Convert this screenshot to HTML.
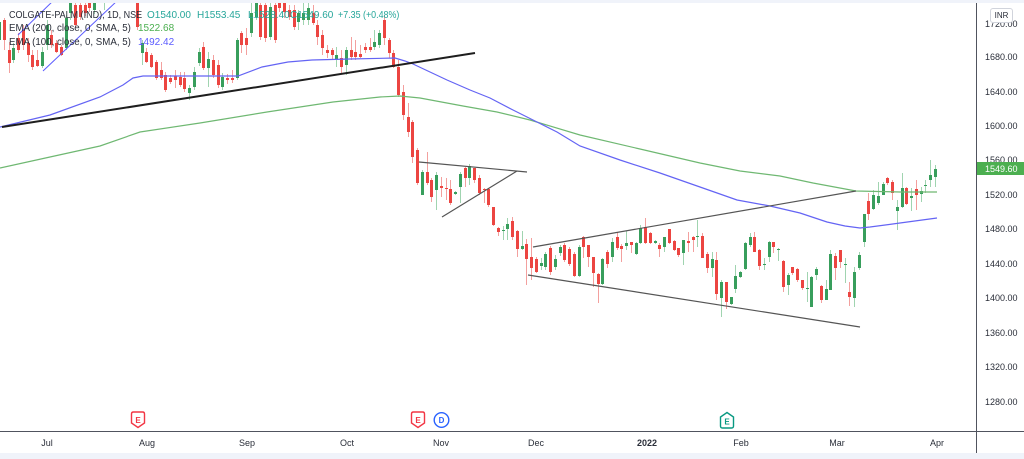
<!DOCTYPE html>
<html><head><meta charset="utf-8">
<style>
html,body{margin:0;padding:0}
body{width:1024px;height:459px;background:#f0f3fa;position:relative;overflow:hidden;font-family:"Liberation Sans",Arial,sans-serif}
#panel{position:absolute;left:0;top:3px;width:1024px;height:450px;background:#fff}
#cw{position:absolute;left:0;top:3px;width:976px;height:428px;overflow:hidden}
#cs{position:absolute;left:-7.58px;top:-3px;display:flex;height:431px}
#cs i{position:relative;flex:0 0 4.759px;width:4.759px;height:431px;display:block}
#cs i::before{content:"";position:absolute;left:calc(50% - 0.5px);width:1px;top:calc(var(--h)*1px);height:calc((var(--l) - var(--h))*1px);background:var(--w)}
#cs i::after{content:"";position:absolute;left:calc(50% - 1.5px);width:3px;top:calc(var(--t)*1px);height:calc(max(1, var(--b) - var(--t))*1px);background:var(--k)}
.r{--w:#f3a09e;--k:#ec4541}
.g{--w:#a0d4b0;--k:#389e5c}
svg{position:absolute;left:0;top:0}
.t{position:absolute;font-size:10px;line-height:12px;white-space:nowrap;color:#2a2e39}
.p{position:absolute;left:985px;font-size:9px;line-height:12px;color:#2a2e39;white-space:nowrap}
.d{position:absolute;top:437px;font-size:9px;line-height:12px;color:#2a2e39;transform:translateX(-50%);white-space:nowrap}
</style></head><body>
<div id="panel"></div>
<div id="cw"><div id="cs">
<i class="r" style="--h:10;--t:15;--b:35;--l:45"></i>
<i class="g" style="--h:15;--t:22;--b:40;--l:48"></i>
<i class="r" style="--h:18;--t:20;--b:40;--l:50"></i>
<i class="r" style="--h:42;--t:50;--b:63;--l:73"></i>
<i class="g" style="--h:43;--t:48;--b:60;--l:63"></i>
<i class="r" style="--h:33;--t:38;--b:50;--l:53"></i>
<i class="r" style="--h:25;--t:30;--b:45;--l:50"></i>
<i class="r" style="--h:38;--t:43;--b:55;--l:62"></i>
<i class="r" style="--h:50;--t:55;--b:67;--l:70"></i>
<i class="r" style="--h:50;--t:60;--b:66;--l:67"></i>
<i class="g" style="--h:47;--t:52;--b:66;--l:68"></i>
<i class="g" style="--h:20;--t:25;--b:45;--l:50"></i>
<i class="r" style="--h:30;--t:35;--b:45;--l:48"></i>
<i class="r" style="--h:40;--t:43;--b:52;--l:53"></i>
<i class="r" style="--h:45;--t:47;--b:55;--l:56"></i>
<i class="g" style="--h:15;--t:18;--b:48;--l:50"></i>
<i class="g" style="--h:0;--t:3;--b:13;--l:20"></i>
<i class="r" style="--h:2;--t:5;--b:25;--l:28"></i>
<i class="r" style="--h:2;--t:5;--b:17;--l:20"></i>
<i class="r" style="--h:2;--t:5;--b:13;--l:16"></i>
<i class="r" style="--h:-2;--t:2;--b:8;--l:12"></i>
<i class="g" style="--h:-5;--t:0;--b:10;--l:14"></i>
<i class="g" style="--h:-30;--t:-20;--b:-5;--l:-2"></i>
<i class="g" style="--h:-15;--t:-8;--b:0;--l:10"></i>
<i class="r" style="--h:-40;--t:-30;--b:-10;--l:-4"></i>
<i class="g" style="--h:-40;--t:-30;--b:-12;--l:-6"></i>
<i class="r" style="--h:-45;--t:-35;--b:-15;--l:-8"></i>
<i class="g" style="--h:-40;--t:-32;--b:-15;--l:-8"></i>
<i class="r" style="--h:-40;--t:-30;--b:-12;--l:-5"></i>
<i class="r" style="--h:-30;--t:-25;--b:-8;--l:-2"></i>
<i class="r" style="--h:-10;--t:-5;--b:27;--l:30"></i>
<i class="g" style="--h:40;--t:43;--b:53;--l:65"></i>
<i class="r" style="--h:48;--t:52;--b:62;--l:63"></i>
<i class="r" style="--h:53;--t:55;--b:67;--l:68"></i>
<i class="r" style="--h:60;--t:62;--b:78;--l:80"></i>
<i class="r" style="--h:62;--t:70;--b:78;--l:80"></i>
<i class="r" style="--h:72;--t:75;--b:90;--l:92"></i>
<i class="r" style="--h:75;--t:78;--b:82;--l:84"></i>
<i class="r" style="--h:70;--t:76;--b:80;--l:88"></i>
<i class="r" style="--h:72;--t:77;--b:85;--l:87"></i>
<i class="r" style="--h:72;--t:78;--b:89;--l:92"></i>
<i class="g" style="--h:85;--t:88;--b:93;--l:100"></i>
<i class="g" style="--h:67;--t:72;--b:87;--l:90"></i>
<i class="g" style="--h:48;--t:52;--b:63;--l:66"></i>
<i class="r" style="--h:42;--t:47;--b:68;--l:70"></i>
<i class="g" style="--h:52;--t:59;--b:68;--l:87"></i>
<i class="r" style="--h:55;--t:60;--b:75;--l:78"></i>
<i class="r" style="--h:60;--t:65;--b:85;--l:88"></i>
<i class="g" style="--h:73;--t:77;--b:87;--l:90"></i>
<i class="r" style="--h:74;--t:78;--b:80;--l:84"></i>
<i class="r" style="--h:70;--t:78;--b:80;--l:83"></i>
<i class="g" style="--h:38;--t:40;--b:78;--l:80"></i>
<i class="r" style="--h:31;--t:33;--b:45;--l:53"></i>
<i class="r" style="--h:28;--t:38;--b:45;--l:55"></i>
<i class="g" style="--h:3;--t:13;--b:33;--l:37"></i>
<i class="g" style="--h:-5;--t:3;--b:17;--l:20"></i>
<i class="r" style="--h:-5;--t:5;--b:37;--l:40"></i>
<i class="r" style="--h:0;--t:5;--b:38;--l:42"></i>
<i class="g" style="--h:3;--t:7;--b:37;--l:40"></i>
<i class="r" style="--h:0;--t:5;--b:40;--l:43"></i>
<i class="r" style="--h:-5;--t:2;--b:8;--l:12"></i>
<i class="r" style="--h:0;--t:3;--b:12;--l:18"></i>
<i class="r" style="--h:5;--t:10;--b:17;--l:20"></i>
<i class="r" style="--h:5;--t:10;--b:27;--l:30"></i>
<i class="g" style="--h:10;--t:13;--b:22;--l:30"></i>
<i class="g" style="--h:3;--t:13;--b:20;--l:25"></i>
<i class="g" style="--h:3;--t:8;--b:20;--l:25"></i>
<i class="r" style="--h:5;--t:13;--b:23;--l:25"></i>
<i class="r" style="--h:20;--t:25;--b:37;--l:45"></i>
<i class="r" style="--h:30;--t:35;--b:48;--l:55"></i>
<i class="r" style="--h:45;--t:50;--b:53;--l:58"></i>
<i class="r" style="--h:48;--t:50;--b:55;--l:60"></i>
<i class="g" style="--h:47;--t:55;--b:60;--l:67"></i>
<i class="r" style="--h:50;--t:58;--b:67;--l:73"></i>
<i class="g" style="--h:47;--t:50;--b:65;--l:75"></i>
<i class="r" style="--h:37;--t:50;--b:57;--l:60"></i>
<i class="r" style="--h:40;--t:52;--b:57;--l:60"></i>
<i class="r" style="--h:45;--t:54;--b:57;--l:58"></i>
<i class="r" style="--h:43;--t:47;--b:50;--l:53"></i>
<i class="r" style="--h:38;--t:47;--b:50;--l:52"></i>
<i class="g" style="--h:30;--t:42;--b:47;--l:50"></i>
<i class="g" style="--h:30;--t:33;--b:45;--l:48"></i>
<i class="r" style="--h:15;--t:20;--b:38;--l:45"></i>
<i class="r" style="--h:38;--t:40;--b:53;--l:58"></i>
<i class="r" style="--h:50;--t:53;--b:67;--l:68"></i>
<i class="r" style="--h:60;--t:67;--b:95;--l:97"></i>
<i class="r" style="--h:85;--t:92;--b:115;--l:120"></i>
<i class="r" style="--h:103;--t:117;--b:132;--l:137"></i>
<i class="r" style="--h:120;--t:122;--b:157;--l:163"></i>
<i class="r" style="--h:148;--t:150;--b:183;--l:185"></i>
<i class="g" style="--h:170;--t:172;--b:195;--l:195"></i>
<i class="r" style="--h:152;--t:172;--b:183;--l:185"></i>
<i class="r" style="--h:178;--t:180;--b:197;--l:202"></i>
<i class="g" style="--h:172;--t:175;--b:190;--l:210"></i>
<i class="r" style="--h:177;--t:186;--b:188;--l:197"></i>
<i class="r" style="--h:178;--t:188;--b:189;--l:200"></i>
<i class="r" style="--h:180;--t:189;--b:203;--l:205"></i>
<i class="g" style="--h:191;--t:192;--b:194;--l:195"></i>
<i class="g" style="--h:172;--t:174;--b:187;--l:203"></i>
<i class="r" style="--h:167;--t:168;--b:178;--l:187"></i>
<i class="g" style="--h:164;--t:166;--b:178;--l:185"></i>
<i class="r" style="--h:168;--t:168;--b:180;--l:183"></i>
<i class="r" style="--h:175;--t:178;--b:193;--l:195"></i>
<i class="r" style="--h:188;--t:189;--b:190;--l:203"></i>
<i class="r" style="--h:188;--t:189;--b:205;--l:207"></i>
<i class="r" style="--h:207;--t:207;--b:225;--l:226"></i>
<i class="r" style="--h:227;--t:228;--b:232;--l:236"></i>
<i class="g" style="--h:226;--t:230;--b:231;--l:240"></i>
<i class="g" style="--h:218;--t:224;--b:229;--l:240"></i>
<i class="r" style="--h:217;--t:221;--b:237;--l:240"></i>
<i class="r" style="--h:230;--t:231;--b:249;--l:257"></i>
<i class="g" style="--h:231;--t:246;--b:249;--l:250"></i>
<i class="r" style="--h:239;--t:244;--b:259;--l:285"></i>
<i class="r" style="--h:238;--t:257;--b:268;--l:280"></i>
<i class="r" style="--h:257;--t:259;--b:272;--l:273"></i>
<i class="g" style="--h:258;--t:263;--b:266;--l:270"></i>
<i class="g" style="--h:252;--t:254;--b:267;--l:270"></i>
<i class="r" style="--h:246;--t:248;--b:272;--l:275"></i>
<i class="g" style="--h:255;--t:259;--b:267;--l:270"></i>
<i class="g" style="--h:245;--t:247;--b:253;--l:256"></i>
<i class="r" style="--h:243;--t:245;--b:260;--l:262"></i>
<i class="r" style="--h:247;--t:249;--b:264;--l:266"></i>
<i class="r" style="--h:252;--t:254;--b:276;--l:277"></i>
<i class="g" style="--h:245;--t:247;--b:276;--l:277"></i>
<i class="r" style="--h:236;--t:237;--b:247;--l:258"></i>
<i class="r" style="--h:245;--t:245;--b:257;--l:267"></i>
<i class="r" style="--h:257;--t:257;--b:273;--l:287"></i>
<i class="r" style="--h:273;--t:274;--b:284;--l:303"></i>
<i class="g" style="--h:258;--t:259;--b:284;--l:285"></i>
<i class="r" style="--h:250;--t:252;--b:264;--l:268"></i>
<i class="g" style="--h:238;--t:242;--b:257;--l:262"></i>
<i class="r" style="--h:232;--t:237;--b:248;--l:250"></i>
<i class="r" style="--h:244;--t:246;--b:249;--l:262"></i>
<i class="g" style="--h:231;--t:243;--b:246;--l:250"></i>
<i class="r" style="--h:242;--t:242;--b:245;--l:253"></i>
<i class="g" style="--h:242;--t:243;--b:254;--l:255"></i>
<i class="g" style="--h:225;--t:228;--b:243;--l:244"></i>
<i class="r" style="--h:218;--t:227;--b:243;--l:244"></i>
<i class="r" style="--h:232;--t:233;--b:243;--l:244"></i>
<i class="g" style="--h:240;--t:241;--b:243;--l:244"></i>
<i class="r" style="--h:243;--t:245;--b:249;--l:257"></i>
<i class="g" style="--h:237;--t:237;--b:247;--l:252"></i>
<i class="r" style="--h:229;--t:229;--b:243;--l:244"></i>
<i class="r" style="--h:240;--t:241;--b:250;--l:251"></i>
<i class="r" style="--h:248;--t:248;--b:255;--l:257"></i>
<i class="g" style="--h:240;--t:240;--b:253;--l:265"></i>
<i class="r" style="--h:232;--t:241;--b:243;--l:252"></i>
<i class="r" style="--h:236;--t:237;--b:240;--l:252"></i>
<i class="g" style="--h:220;--t:236;--b:237;--l:247"></i>
<i class="r" style="--h:233;--t:236;--b:258;--l:258"></i>
<i class="r" style="--h:252;--t:254;--b:268;--l:273"></i>
<i class="g" style="--h:252;--t:259;--b:268;--l:277"></i>
<i class="r" style="--h:252;--t:260;--b:294;--l:300"></i>
<i class="g" style="--h:280;--t:282;--b:298;--l:317"></i>
<i class="r" style="--h:282;--t:282;--b:302;--l:309"></i>
<i class="g" style="--h:297;--t:297;--b:304;--l:305"></i>
<i class="g" style="--h:265;--t:276;--b:289;--l:293"></i>
<i class="g" style="--h:271;--t:272;--b:277;--l:278"></i>
<i class="g" style="--h:242;--t:243;--b:269;--l:270"></i>
<i class="g" style="--h:233;--t:237;--b:245;--l:247"></i>
<i class="r" style="--h:232;--t:237;--b:252;--l:252"></i>
<i class="r" style="--h:249;--t:250;--b:266;--l:270"></i>
<i class="g" style="--h:258;--t:264;--b:265;--l:270"></i>
<i class="g" style="--h:241;--t:242;--b:257;--l:262"></i>
<i class="r" style="--h:242;--t:242;--b:247;--l:253"></i>
<i class="g" style="--h:248;--t:249;--b:250;--l:261"></i>
<i class="r" style="--h:260;--t:261;--b:287;--l:292"></i>
<i class="g" style="--h:273;--t:275;--b:285;--l:295"></i>
<i class="r" style="--h:267;--t:267;--b:273;--l:275"></i>
<i class="r" style="--h:268;--t:269;--b:280;--l:282"></i>
<i class="r" style="--h:280;--t:280;--b:288;--l:290"></i>
<i class="g" style="--h:272;--t:288;--b:289;--l:302"></i>
<i class="g" style="--h:276;--t:277;--b:307;--l:307"></i>
<i class="g" style="--h:267;--t:269;--b:275;--l:280"></i>
<i class="r" style="--h:285;--t:286;--b:300;--l:303"></i>
<i class="g" style="--h:280;--t:289;--b:300;--l:300"></i>
<i class="g" style="--h:250;--t:254;--b:290;--l:290"></i>
<i class="r" style="--h:253;--t:256;--b:268;--l:280"></i>
<i class="r" style="--h:250;--t:250;--b:262;--l:268"></i>
<i class="g" style="--h:258;--t:264;--b:265;--l:283"></i>
<i class="r" style="--h:282;--t:292;--b:297;--l:306"></i>
<i class="g" style="--h:267;--t:272;--b:298;--l:307"></i>
<i class="g" style="--h:252;--t:255;--b:268;--l:270"></i>
<i class="g" style="--h:214;--t:214;--b:242;--l:247"></i>
<i class="r" style="--h:193;--t:201;--b:214;--l:220"></i>
<i class="g" style="--h:190;--t:195;--b:209;--l:210"></i>
<i class="g" style="--h:182;--t:196;--b:203;--l:205"></i>
<i class="g" style="--h:182;--t:184;--b:195;--l:195"></i>
<i class="r" style="--h:177;--t:178;--b:183;--l:185"></i>
<i class="r" style="--h:180;--t:182;--b:193;--l:200"></i>
<i class="g" style="--h:200;--t:207;--b:211;--l:230"></i>
<i class="g" style="--h:173;--t:188;--b:207;--l:208"></i>
<i class="r" style="--h:187;--t:188;--b:204;--l:205"></i>
<i class="g" style="--h:188;--t:196;--b:198;--l:211"></i>
<i class="r" style="--h:180;--t:189;--b:195;--l:210"></i>
<i class="g" style="--h:187;--t:191;--b:194;--l:202"></i>
<i class="g" style="--h:180;--t:185;--b:186;--l:193"></i>
<i class="g" style="--h:160;--t:175;--b:180;--l:187"></i>
<i class="g" style="--h:165;--t:169;--b:177;--l:187"></i>
</div></div>

<svg width="1024" height="459" viewBox="0 0 1024 459">
<defs><clipPath id="pc"><rect x="0" y="3" width="976" height="428"/></clipPath></defs>
<g clip-path="url(#pc)" fill="none">
<polyline stroke="#6fb872" stroke-width="1.2" points="0,168 50,157 100,146 140,132 200,123 267,112 333,102 380,97 400,96 420,98 463,106 497,112 530,120 580,135 640,149 700,163 740,171 780,176 813,183 856,191 900,192 937,192"/>
<polyline stroke="#6464f4" stroke-width="1.2" points="0,127 50,115 100,97 123,85 133,78 143,76 195,76 238,76 262,67 288,62 312,60 350,59 395,58 405,61 413,64 430,72 447,80 470,90 490,98 513,110 537,122 557,132 580,146 620,160 660,173 700,187 737,200 770,206 800,213 827,222 845,226 860,228 870,227 900,223 937,218"/>
<line x1="18" y1="35" x2="55" y2="-1" stroke="#5b5bff" stroke-width="1"/>
<line x1="43" y1="71" x2="118" y2="0" stroke="#5b5bff" stroke-width="1"/>
<line x1="2" y1="127" x2="475" y2="53" stroke="#1e1e1e" stroke-width="2"/>
<line x1="419" y1="162" x2="527" y2="172" stroke="#555" stroke-width="1.2"/>
<line x1="442" y1="217" x2="517" y2="171" stroke="#555" stroke-width="1.2"/>
<line x1="533" y1="247" x2="856" y2="191" stroke="#555" stroke-width="1.2"/>
<line x1="528" y1="275" x2="860" y2="327" stroke="#555" stroke-width="1.2"/>
</g>
<line x1="976.5" y1="3" x2="976.5" y2="453" stroke="#50535e" stroke-width="1"/>
<line x1="0" y1="431.5" x2="1024" y2="431.5" stroke="#50535e" stroke-width="1"/>
<!-- event markers -->
<path d="M131.5,414 q0,-2 2,-2 h9 q2,0 2,2 v9 l-6.5,4.5 l-6.5,-4.5 z" fill="#fff" stroke="#f23645" stroke-width="1.4"/>
<text x="138" y="423" font-family="Liberation Sans, sans-serif" font-size="8" font-weight="bold" fill="#f23645" text-anchor="middle">E</text>
<path d="M411.5,414 q0,-2 2,-2 h9 q2,0 2,2 v9 l-6.5,4.5 l-6.5,-4.5 z" fill="#fff" stroke="#f23645" stroke-width="1.4"/>
<text x="418" y="423" font-family="Liberation Sans, sans-serif" font-size="8" font-weight="bold" fill="#f23645" text-anchor="middle">E</text>
<circle cx="441.5" cy="420" r="7.3" fill="#fff" stroke="#2962ff" stroke-width="1.4"/>
<text x="441.5" y="423" font-family="Liberation Sans, sans-serif" font-size="8" font-weight="bold" fill="#2962ff" text-anchor="middle">D</text>
<path d="M720.5,426 q0,2 2,2 h9 q2,0 2,-2 v-9 l-6.5,-4.5 l-6.5,4.5 z" fill="#fff" stroke="#089981" stroke-width="1.4"/>
<text x="727" y="424.5" font-family="Liberation Sans, sans-serif" font-size="8" font-weight="bold" fill="#089981" text-anchor="middle">E</text>
</svg>

<!-- legend -->
<div class="t" style="left:9px;top:9.5px;transform:scaleX(0.9);transform-origin:left center">COLGATE-PALM (IND), 1D, NSE</div>
<div class="t" style="left:147px;top:9.5px;color:#26a69a">O1540.00</div>
<div class="t" style="left:197px;top:9.5px;color:#26a69a">H1553.45</div>
<div class="t" style="left:248px;top:9.5px;color:#26a69a">L1528.40</div>
<div class="t" style="left:290px;top:9.5px;color:#26a69a">C1549.60</div>
<div class="t" style="left:338px;top:9.5px;color:#26a69a;transform:scaleX(0.89);transform-origin:left center">+7.35 (+0.48%)</div>
<div class="t" style="left:9px;top:23px;transform:scaleX(0.97);transform-origin:left center">EMA (200, close, 0, SMA, 5)</div>
<div class="t" style="left:138px;top:23px;color:#4caf50">1522.68</div>
<div class="t" style="left:9px;top:37px;transform:scaleX(0.97);transform-origin:left center">EMA (100, close, 0, SMA, 5)</div>
<div class="t" style="left:138px;top:37px;color:#5b5bff">1492.42</div>

<!-- price axis -->
<div class="p" style="top:18px">1720.00</div>
<div style="position:absolute;left:990px;top:8px;width:21px;height:13px;border:1px solid #d1d4dc;border-radius:3px;background:#fff;font-size:8px;line-height:13px;text-align:center;color:#2a2e39">INR</div>
<div class="p" style="top:51px">1680.00</div>
<div class="p" style="top:85.5px">1640.00</div>
<div class="p" style="top:120px">1600.00</div>
<div class="p" style="top:154px">1560.00</div>
<div class="p" style="top:188.5px">1520.00</div>
<div class="p" style="top:223px">1480.00</div>
<div class="p" style="top:257.5px">1440.00</div>
<div class="p" style="top:292px">1400.00</div>
<div class="p" style="top:326.5px">1360.00</div>
<div class="p" style="top:361px">1320.00</div>
<div class="p" style="top:395.5px">1280.00</div>
<div style="position:absolute;left:977px;top:162px;width:47px;height:13px;background:#4caf50"></div>
<div class="p" style="top:162.5px;color:#fff">1549.60</div>

<!-- time axis -->
<div class="d" style="left:47px">Jul</div>
<div class="d" style="left:147px">Aug</div>
<div class="d" style="left:247px">Sep</div>
<div class="d" style="left:347px">Oct</div>
<div class="d" style="left:441px">Nov</div>
<div class="d" style="left:536px">Dec</div>
<div class="d" style="left:647px;font-weight:bold">2022</div>
<div class="d" style="left:741px">Feb</div>
<div class="d" style="left:837px">Mar</div>
<div class="d" style="left:937px">Apr</div>
</body></html>
